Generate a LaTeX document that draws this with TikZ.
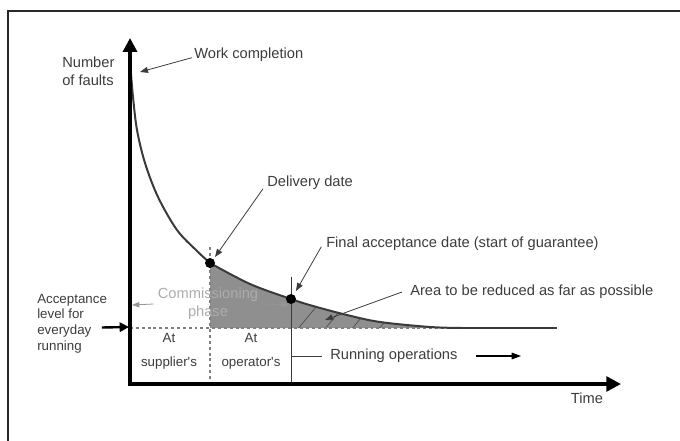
\documentclass[tikz,border=0pt]{standalone}
\usepackage{fontspec}
\setmainfont{Liberation Sans}
\usetikzlibrary{arrows.meta}
\definecolor{txtgray}{RGB}{60,60,60}
\definecolor{lightgray}{RGB}{150,150,150}
\definecolor{phasegray}{RGB}{172,172,172}
\definecolor{fillgray}{RGB}{143,143,143}
\definecolor{curvegray}{RGB}{58,58,58}
\definecolor{framegray}{RGB}{40,40,40}
\begin{document}
\begin{tikzpicture}[x=0.75pt,y=-0.75pt,
  lbl/.style={font=\fontsize{11}{13.5}\selectfont, text=txtgray, inner sep=0pt},
  smalllbl/.style={font=\fontsize{10}{11.8}\selectfont, text=txtgray, inner sep=0pt},
  pointer/.style={draw=txtgray, line width=0.6pt, -{Triangle[length=6pt,width=4.5pt]}},
  thinpointer/.style={draw=lightgray, line width=0.6pt, -{Triangle[length=5.5pt,width=4pt]}},
  axisline/.style={draw=black, line width=2.6pt, line join=miter,
    {Triangle[length=10.5pt,width=10.5pt]}-{Triangle[length=11pt,width=11pt]}},
  faultcurve/.style={draw=curvegray, line width=1.5pt},
  dashline/.style={draw=gray, line width=0.8pt, dash pattern=on 2.2pt off 2.2pt},
  hatch/.style={draw=black!70, line width=0.5pt},
  datedot/.style={circle, fill=black, inner sep=0pt, minimum size=7.5pt}]
\useasboundingbox (0,0) rectangle (680,441);

% outer frame (top and left edges)
\draw[framegray, line width=1.6pt] (8,445) -- (8,11) -- (685,11);

% key coordinates
\coordinate (O) at (130,384);
\coordinate (ytop) at (130,38);
\coordinate (xend) at (621,384);

% shaded area between the fault curve and the acceptance level
\fill[fillgray] (210,328) -- plot[smooth, tension=0.55] coordinates
  {(210,263) (250,284) (291,299) (313,306) (347,315) (380,322) (430,327) (462,328)} -- cycle;

% hatching of the area after final acceptance
\begin{scope}
  \clip (291,240) rectangle (470,329);
  \clip (210,328) -- plot[smooth, tension=0.55] coordinates
    {(210,263) (250,284) (291,299) (313,306) (347,315) (380,322) (430,327) (462,328)} -- cycle;
  \foreach \hx in {270,297,...,480}
    \draw[hatch] (\hx,330) -- ++(19,-23);
\end{scope}

% acceptance level
\draw[dashline] (130,328) -- (462,328);
\draw[curvegray, line width=1.5pt] (462,328) -- (557,328);

% phase separators
\draw[dashline] (210,247) -- (210,384);
\draw[txtgray, line width=0.7pt] (291,277) -- (291,384);

% fault curve
\draw[faultcurve] plot[smooth, tension=0.55] coordinates
  {(131,74) (133,97) (137,130) (145,163) (158,197) (177,230) (197,251) (210,263)};
\draw[faultcurve] plot[smooth, tension=0.55] coordinates
  {(210,263) (250,284) (291,299) (313,306) (347,315) (380,322) (430,327) (462,328)};

% axes
\draw[axisline] (ytop) -- (O) -- (xend);

% date markers
\node[datedot] (dd) at (210,263) {};
\node[datedot] (fd) at (291,299) {};

% labels
\node[lbl, anchor=west, align=left] (nf) at (62,71) {Number\\of faults};
\node[lbl, anchor=center] (tm) at (587,398) {Time};
\node[lbl, anchor=west] (wc) at (194,55) {Work completion};
\node[lbl, anchor=west] (dl) at (267,183) {Delivery date};
\node[lbl, anchor=west] (fa) at (326,244) {Final acceptance date (start of guarantee)};
\node[lbl, anchor=west] (ar) at (410,292) {Area to be reduced as far as possible};
\node[lbl, anchor=west] (ro) at (330,356) {Running operations};
\node[lbl, anchor=center, align=center, text=phasegray] (cp) at (208,304) {Commissioning\\phase};
\node[smalllbl, anchor=west, align=left] (acc) at (37,323.5)
  {Acceptance\\level for\\everyday\\running};
\node[smalllbl, anchor=center, align=center, font=\fontsize{10}{18}\selectfont] (sup) at (169,351) {At\\supplier\textquotesingle s};
\node[smalllbl, anchor=center, align=center, font=\fontsize{10}{18}\selectfont] (opr) at (251,351) {At\\operator\textquotesingle s};

% arrow targets
\coordinate (wcTip) at (140,72);
\coordinate (dlTip) at (215,257);
\coordinate (faTip) at (296,291);
\coordinate (arTip) at (325,320);
\coordinate (cpL) at (132,305);
\coordinate (cpR) at (289,305);
\coordinate (accTip) at (129,327);
\coordinate (roLine) at (291,356);
\coordinate (roTip) at (521,356);

% pointers
\draw[pointer] ([xshift=-1.5pt,yshift=-2pt]wc.west) -- (wcTip);
\draw[pointer] ([xshift=-3pt,yshift=1pt]dl.south west) -- (dlTip);
\draw[pointer] ([xshift=-3.5pt,yshift=-2pt]fa.west) -- (faTip);
\draw[pointer] ([xshift=-6pt]ar.west) -- (arTip);
\draw[thinpointer] ([xshift=-3pt]cp.west) -- (cpL);
\draw[thinpointer] ([xshift=6pt]cp.east) -- (cpR);
\draw[black, line width=1.8pt, -{Triangle[length=7pt,width=7pt]}]
  ([shift={(-4pt,-3pt)}]acc.east) -- (accTip);
\draw[txtgray, line width=0.7pt] (roLine) -- ([xshift=-6pt]ro.west);
\draw[black, line width=0.8pt, -{Triangle[length=7pt,width=5pt]}]
  ([xshift=14pt]ro.east) -- (roTip);
\end{tikzpicture}
\end{document}
